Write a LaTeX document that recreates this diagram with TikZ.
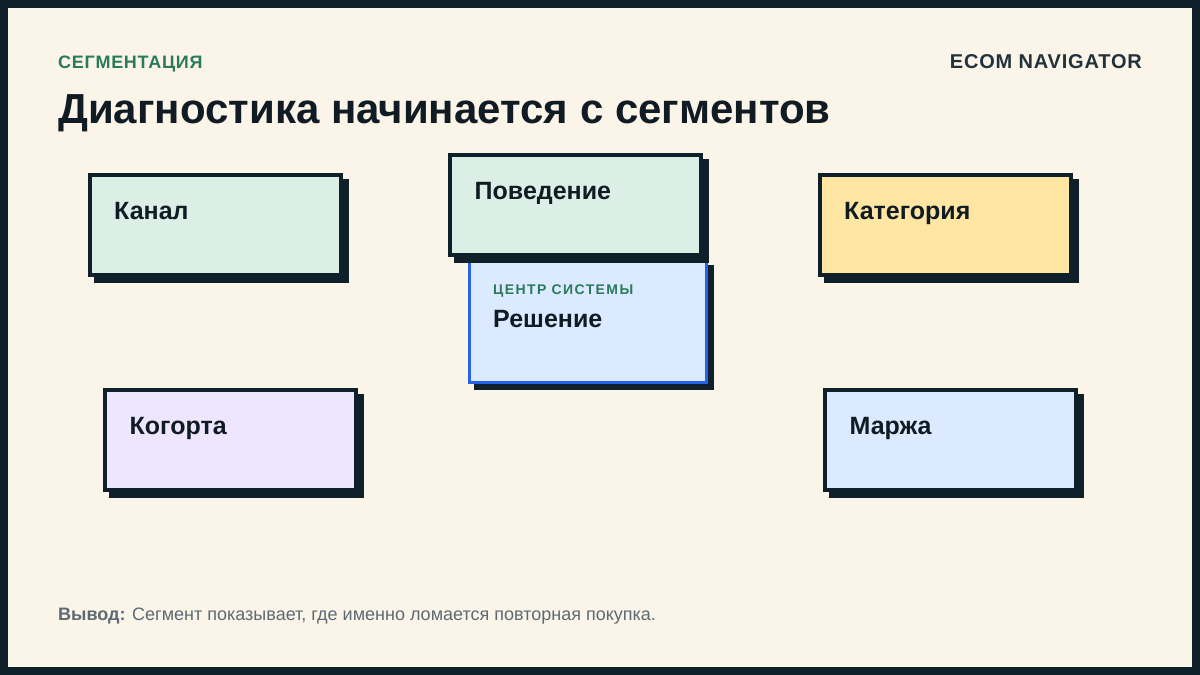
\documentclass[tikz,border=0pt]{standalone}
\usepackage{fontspec}
\setmainfont{Liberation Sans}
\newfontfamily\kickerfont[LetterSpace=4]{Liberation Sans}
\newfontfamily\spacedfont[LetterSpace=10]{Liberation Sans}
\newfontfamily\spacedfontb[LetterSpace=4]{Liberation Sans}
\usetikzlibrary{shadows}
\definecolor{darkc}{HTML}{10202B}
\definecolor{cream}{HTML}{FBF4E8}
\definecolor{greenc}{HTML}{2B7A5B}
\definecolor{fgreen}{HTML}{DCEFE6}
\definecolor{fyellow}{HTML}{FFE7A3}
\definecolor{flav}{HTML}{EEE5FF}
\definecolor{fblue}{HTML}{DBEAFE}
\definecolor{bluec}{HTML}{2563EB}
\definecolor{textc}{HTML}{111B24}
\definecolor{brandc}{HTML}{22323C}
\definecolor{grayc}{HTML}{5D6A73}
\tikzset{
  card/.style={draw=darkc, line width=4pt, outer sep=0pt, inner sep=0pt,
    minimum width=251pt, minimum height=99.4pt, rectangle,
    general shadow={fill=darkc, draw=darkc, line width=4pt, shadow xshift=6pt, shadow yshift=-6pt}},
  centercard/.style={draw=bluec, line width=3pt, outer sep=0pt, inner sep=0pt,
    minimum width=237pt, minimum height=122pt, rectangle, fill=fblue,
    general shadow={fill=darkc, draw=darkc, line width=3pt, shadow xshift=6pt, shadow yshift=-6pt}},
  cardtext/.style={anchor=base west, inner sep=0pt, text=textc, font=\fontsize{25}{29}\selectfont\bfseries},
  smalllabel/.style={anchor=base west, inner sep=0pt, text=greenc, font=\spacedfont\fontsize{14}{16}\selectfont\bfseries},
}
\begin{document}
\begin{tikzpicture}[x=1pt,y=-1pt]
\useasboundingbox (0,0) rectangle (1200,675);
\fill[darkc] (0,0) rectangle (1200,675);
\fill[cream] (8,8) rectangle (1192,667);

\node[smalllabel, font=\kickerfont\fontsize{18}{20}\selectfont\bfseries] (kicker) at (58,68.5) {СЕГМЕНТАЦИЯ};
\node[anchor=base east, inner sep=0pt, text=brandc, font=\spacedfontb\fontsize{20}{22}\selectfont\bfseries] (brand) at (1142,68.5) {ECOM NAVIGATOR};
\node[anchor=base west, inner sep=0pt, text=textc, font=\fontsize{42}{48}\selectfont\bfseries] (title) at (58,123) {Диагностика начинается с сегментов};

% center card first (under Поведение)
\node[centercard] (resh) at (588.3,321.8) {};
\node[smalllabel] (reshk) at (493,294) {ЦЕНТР СИСТЕМЫ};
\node[cardtext] (resht) at (493,327) {Решение};

\node[card, fill=fgreen] (kanal) at (215.5,225) {};
\node[cardtext] (kanalt) at (114,219.5) {Канал};

\node[card, fill=fgreen] (pov) at (575.5,205) {};
\node[cardtext] (povt) at (474.5,199.5) {Поведение};

\node[card, fill=fyellow] (kat) at (945.5,225) {};
\node[cardtext] (katt) at (844,219.5) {Категория};

\node[card, fill=flav] (kog) at (230.5,440) {};
\node[cardtext] (kogt) at (129.5,434.5) {Когорта};

\node[card, fill=fblue] (marzh) at (950.5,440) {};
\node[cardtext] (marzht) at (849.5,434.5) {Маржа};

\node[anchor=base west, inner sep=0pt, text=grayc, font=\fontsize{18}{22}\selectfont] (footer) at (58,620.5) {\textbf{Вывод:} Сегмент показывает, где именно ломается повторная покупка.};
\end{tikzpicture}
\end{document}
